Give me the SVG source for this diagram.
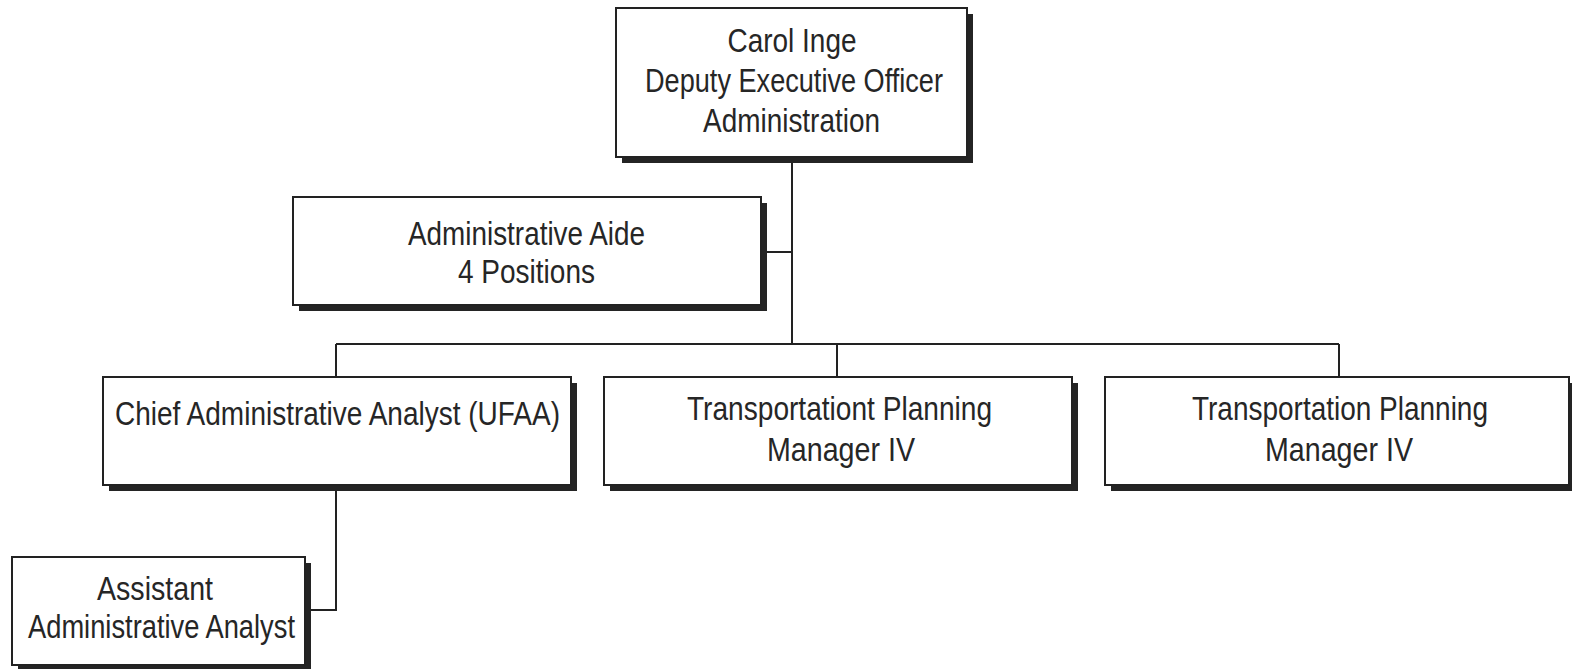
<svg xmlns="http://www.w3.org/2000/svg" width="1572" height="669" viewBox="0 0 1572 669">
<style>
.sh{fill:#242424}
.bx{fill:#fff;stroke:#222;stroke-width:2}
.t{font-family:"Liberation Sans",Arial,sans-serif;font-size:34px;fill:#262626;text-anchor:middle}
.c{fill:none;stroke:#222;stroke-width:2}
</style>
<rect width="1572" height="669" fill="#fff"/>
<g id="connectors">
<path class="c" d="M792 160V344"/>
<path class="c" d="M762 252H792"/>
<path class="c" d="M336 344H1339"/>
<path class="c" d="M336 344V377"/>
<path class="c" d="M837 344V377"/>
<path class="c" d="M1339 344V377"/>
<path class="c" d="M336 486V610H306"/>
</g>
<g id="n-carol">
<rect class="sh" x="622" y="14" width="351" height="149"/>
<rect class="bx" x="616" y="8" width="351" height="149"/>
<text class="t" x="792" y="52" textLength="129" lengthAdjust="spacingAndGlyphs">Carol Inge</text>
<text class="t" x="794" y="92" textLength="298" lengthAdjust="spacingAndGlyphs">Deputy Executive Officer</text>
<text class="t" x="791.5" y="132" textLength="177" lengthAdjust="spacingAndGlyphs">Administration</text>
</g>
<g id="n-aide">
<rect class="sh" x="299" y="203" width="468" height="108"/>
<rect class="bx" x="293" y="197" width="468" height="108"/>
<text class="t" x="526.5" y="245" textLength="237" lengthAdjust="spacingAndGlyphs">Administrative Aide</text>
<text class="t" x="526.5" y="283" textLength="137" lengthAdjust="spacingAndGlyphs">4 Positions</text>
</g>
<g id="n-chief">
<rect class="sh" x="109" y="383" width="468" height="108"/>
<rect class="bx" x="103" y="377" width="468" height="108"/>
<text class="t" x="337.5" y="425" textLength="445" lengthAdjust="spacingAndGlyphs">Chief Administrative Analyst (UFAA)</text>
</g>
<g id="n-tpm1">
<rect class="sh" x="610" y="383" width="468" height="108"/>
<rect class="bx" x="604" y="377" width="468" height="108"/>
<text class="t" x="839.5" y="420" textLength="305" lengthAdjust="spacingAndGlyphs">Transportationt Planning</text>
<text class="t" x="841" y="461" textLength="148" lengthAdjust="spacingAndGlyphs">Manager IV</text>
</g>
<g id="n-tpm2">
<rect class="sh" x="1111" y="383" width="468" height="108"/>
<rect class="bx" x="1105" y="377" width="464" height="108"/>
<text class="t" x="1340" y="420" textLength="296" lengthAdjust="spacingAndGlyphs">Transportation Planning</text>
<text class="t" x="1339" y="461" textLength="148" lengthAdjust="spacingAndGlyphs">Manager IV</text>
</g>
<g id="n-assistant">
<rect class="sh" x="18" y="563" width="293" height="108"/>
<rect class="bx" x="12" y="557" width="293" height="108"/>
<text class="t" x="155" y="600" textLength="116" lengthAdjust="spacingAndGlyphs">Assistant</text>
<text class="t" x="161.5" y="638" textLength="267" lengthAdjust="spacingAndGlyphs">Administrative Analyst</text>
</g>
</svg>
